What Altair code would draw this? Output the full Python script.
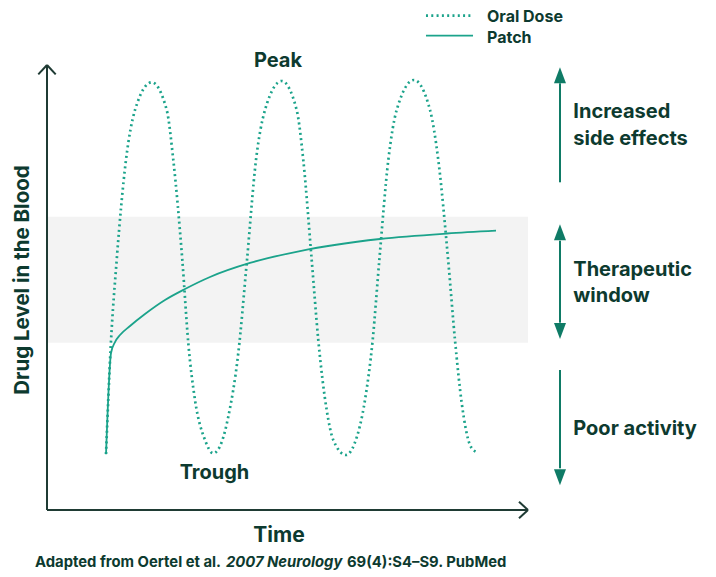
import altair as alt
import pandas as pd

# ---- data (time along x axis 0-100, drug level along y axis 0-100) ----
oral_t = [12.27, 13.24, 14.49, 16.42, 18.30, 21.77, 24.89, 26.26, 28.13, 29.38, 30.77, 32.85,
          34.57, 36.35, 37.69, 39.77, 41.52, 43.45, 45.32, 48.79, 51.91, 53.28, 55.03, 56.40,
          58.15, 59.52, 62.16, 63.96, 66.11, 67.71, 69.09, 70.96, 72.70, 76.30, 79.63, 81.35,
          83.43, 84.82, 86.22, 87.94, 89.13]
oral_level = [12.58, 36.63, 56.18, 78.65, 89.89, 96.11, 89.89, 78.65, 56.18, 37.46, 24.72, 15.73,
              12.74, 15.35, 20.97, 35.28, 55.44, 78.65, 89.89, 96.40, 89.89, 78.65, 56.18, 38.20,
              22.47, 15.73, 12.36, 14.99, 24.72, 38.20, 56.18, 78.65, 89.89, 96.63, 89.89, 78.65,
              55.80, 38.20, 24.04, 14.61, 13.10]

patch_t = [12.27, 13.31, 14.14, 15.18, 17.26, 20.37, 24.53, 28.69, 33.89, 42.20, 52.60, 69.23, 83.16, 93.35]
patch_level = [12.52, 35.28, 37.75, 39.33, 41.35, 44.04, 47.19, 49.66, 52.36, 55.51, 58.20, 60.90, 62.13, 62.76]

window_low = 37.6
window_high = 65.9

zone_labels = ["Increased", "side effects", "Therapeutic", "window", "Poor activity"]
legend_labels = ["Oral Dose", "Patch"]
source_parts = ["Adapted from Oertel et al.", "2007 Neurology", "69(4):S4\u2013S9. PubMed"]

TEAL = "#1ba38b"
ARROW = "#0f7b66"
DARK = "#0d3a2f"
AXIS = "#1f3b34"
FONT = "Inter"

xs = alt.Scale(domain=[0, 100], range=[39, 520])
ys = alt.Scale(domain=[0, 100], range=[494, 49])


def X(f):
    return alt.X(f"{f}:Q", scale=xs, axis=None)


def Y(f):
    return alt.Y(f"{f}:Q", scale=ys, axis=None)


oral_df = pd.DataFrame({"t": oral_t, "level": oral_level})
patch_df = pd.DataFrame({"t": patch_t, "level": patch_level})
band_df = pd.DataFrame({"t": [0], "t2": [100], "y": [window_low], "y2": [window_high]})

band = alt.Chart(band_df).mark_rect(color="#f3f3f3").encode(
    x=X("t"), x2="t2", y=Y("y"), y2="y2")

axes_df = pd.DataFrame({
    "t":  [0, 0, -1.81, 0, 98.13, 98.13],
    "y":  [0, 0, 97.9, 100, 1.87, -1.87],
    "t2": [0, 100, 0, 1.81, 100, 100],
    "y2": [100, 0, 100, 97.9, 0, 0],
})
axes = alt.Chart(axes_df).mark_rule(color=AXIS, strokeWidth=2).encode(
    x=X("t"), y=Y("y"), x2="t2", y2="y2")

oral = alt.Chart(oral_df).mark_line(
    color=TEAL, strokeWidth=2.7, strokeDash=[2, 3.3], interpolate="monotone"
).encode(x=X("t"), y=Y("level"), order="t:Q")

patch = alt.Chart(patch_df).mark_line(
    color=TEAL, strokeWidth=1.8, interpolate="monotone"
).encode(x=X("t"), y=Y("level"), order="t:Q")

# zone arrows on the right
arrow_x = 106.65
shafts_df = pd.DataFrame({
    "t": [arrow_x] * 3,
    "y": [73.64, 60.52, 31.46],
    "y2": [95.89, 42.09, 9.37],
})
shafts = alt.Chart(shafts_df).mark_rule(color=ARROW, strokeWidth=2).encode(
    x=X("t"), y=Y("y"), y2="y2")

UP = "M-0.75,1L0,-1L0.75,1Z"
DOWN = "M-0.75,-1L0,1L0.75,-1Z"
heads_df = pd.DataFrame({
    "t": [arrow_x] * 4,
    "y": [97.69, 62.39, 40.22, 7.38],
    "shape": [UP, UP, DOWN, DOWN],
})
heads = alt.Chart(heads_df).mark_point(
    filled=True, size=256, color=ARROW, opacity=1, strokeWidth=0
).encode(x=X("t"), y=Y("y"), shape=alt.Shape("shape:N", scale=None))

# right labels
zone_df = pd.DataFrame({
    "t": [109.42] * 5,
    "y": [88.02, 82.02, 52.58, 46.81, 16.85],
    "label": zone_labels,
})
zone_text = alt.Chart(zone_df).mark_text(
    align="left", baseline="alphabetic", font=FONT, fontWeight="bold", fontSize=20, color=DARK
).encode(x=X("t"), y=Y("y"), text="label:N")

# curve annotations
ann_df = pd.DataFrame({"t": [48.02, 34.82], "y": [99.55, 6.97], "label": ["Peak", "Trough"]})
ann_text = alt.Chart(ann_df).mark_text(
    align="center", baseline="alphabetic", font=FONT, fontWeight="bold", fontSize=20, color=DARK
).encode(x=X("t"), y=Y("y"), text="label:N")

xtitle = alt.Chart(pd.DataFrame({"t": [48.23], "y": [-7.19], "label": ["Time"]})).mark_text(
    align="center", baseline="alphabetic", font=FONT, fontWeight="bold", fontSize=21, color=DARK
).encode(x=X("t"), y=Y("y"), text="label:N")

ytitle = alt.Chart(pd.DataFrame({"t": [-3.74], "y": [51.69], "label": ["Drug Level in the Blood"]})).mark_text(
    align="center", baseline="alphabetic", angle=270, font=FONT, fontWeight="bold", fontSize=20.5, color=DARK
).encode(x=X("t"), y=Y("y"), text="label:N")

# legend
leg_line_df = pd.DataFrame({"t": [78.79], "t2": [88.57], "y": [111.1]})
leg_dot = alt.Chart(leg_line_df).mark_rule(color=TEAL, strokeWidth=2.7, strokeDash=[2, 3.3]).encode(
    x=X("t"), x2="t2", y=Y("y"))
leg_solid_df = pd.DataFrame({"t": [78.79], "t2": [88.57], "y": [106.6]})
leg_solid = alt.Chart(leg_solid_df).mark_rule(color=TEAL, strokeWidth=1.8).encode(
    x=X("t"), x2="t2", y=Y("y"))
leg_text = alt.Chart(pd.DataFrame({"t": [91.48, 91.48], "y": [109.7, 105.0], "label": legend_labels})).mark_text(
    align="left", baseline="alphabetic", font=FONT, fontWeight="bold", fontSize=16, color=DARK
).encode(x=X("t"), y=Y("y"), text="label:N")

# source note
src_df = pd.DataFrame({
    "t": [-2.49, 37.2, 62.37],
    "y": [-12.81] * 3,
    "label": source_parts,
    "style": ["normal", "italic", "normal"],
})
src_normal = alt.Chart(src_df[src_df["style"] == "normal"]).mark_text(
    align="left", baseline="alphabetic", font=FONT, fontWeight="bold", fontSize=14.8, color=DARK
).encode(x=X("t"), y=Y("y"), text="label:N")
src_italic = alt.Chart(src_df[src_df["style"] == "italic"]).mark_text(
    align="left", baseline="alphabetic", font=FONT, fontWeight="bold", fontStyle="italic", fontSize=14.8, color=DARK
).encode(x=X("t"), y=Y("y"), text="label:N")

chart = alt.layer(
    band, axes, patch, oral, shafts, heads, zone_text, ann_text, xtitle, ytitle,
    leg_dot, leg_solid, leg_text, src_normal, src_italic
).properties(
    width=700, height=553, autosize="none", background="white",
    padding={"top": 8, "bottom": 6, "left": 0, "right": 0}
).configure_view(stroke=None)

chart.save("out.html", embed_options={"renderer": "svg", "actions": False})
